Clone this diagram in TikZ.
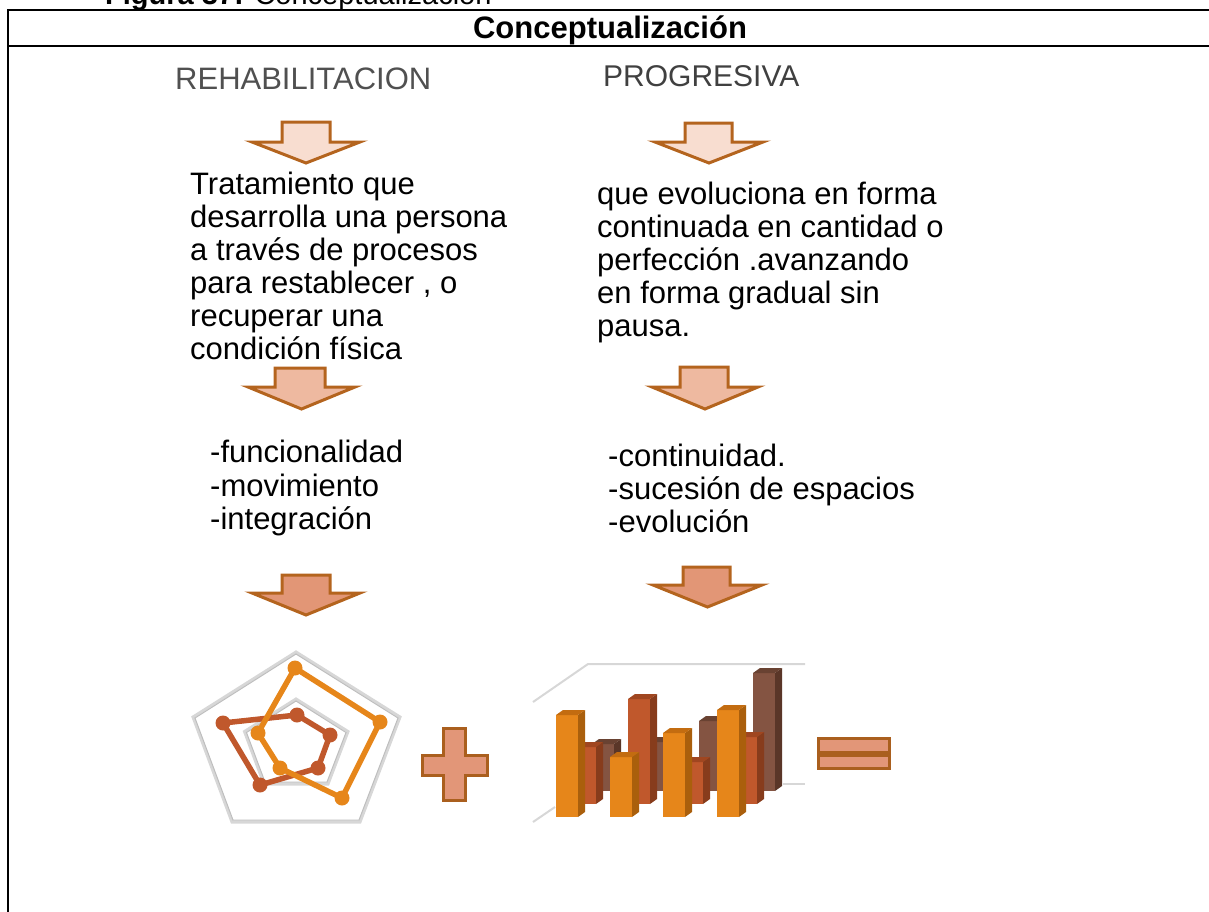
\documentclass[tikz,border=0pt]{standalone}
\usepackage{fontspec}
\setmainfont{Liberation Sans}
\definecolor{arrline}{RGB}{180,100,30}
\definecolor{fillA}{RGB}{248,221,208}
\definecolor{fillB}{RGB}{238,185,160}
\definecolor{fillC}{RGB}{226,150,118}
\definecolor{symfill}{RGB}{226,150,120}
\definecolor{symline}{RGB}{170,95,30}
\definecolor{gridgray}{RGB}{215,215,215}
\definecolor{gridshadow}{RGB}{190,190,190}
\definecolor{serO}{RGB}{230,134,26}
\definecolor{serOside}{RGB}{170,95,12}
\definecolor{serOtop}{RGB}{195,108,16}
\definecolor{serR}{RGB}{192,88,44}
\definecolor{serRside}{RGB}{135,60,28}
\definecolor{serRtop}{RGB}{160,70,32}
\definecolor{serB}{RGB}{132,84,66}
\definecolor{serBside}{RGB}{90,54,40}
\definecolor{serBtop}{RGB}{105,66,50}
\definecolor{headgray}{RGB}{80,80,80}
\newcommand{\blkarrow}[8]{\draw[arrowstyle, fill=#8] (#1,#3) -- (#2,#3) -- (#2,#4) -- (#6,#4) -- ({(#5+#6)/2},#7) -- (#5,#4) -- (#1,#4) -- cycle;}
\newcommand{\bardd}[6]{%
  \fill[#4] (#1,#3) rectangle ({#1+22},#2);
  \fill[#5] ({#1+22},#2) -- ({#1+29},{#2-5}) -- ({#1+29},{#3-5}) -- ({#1+22},#3) -- cycle;
  \fill[#6] (#1,#3) -- ({#1+7},{#3-5}) -- ({#1+29},{#3-5}) -- ({#1+22},#3) -- cycle;}
\begin{document}
\begin{tikzpicture}[x=1pt,y=-1pt,
  frameline/.style={line width=2pt, black},
  arrowstyle/.style={draw=arrline, line width=3pt, line join=miter},
  body/.style={anchor=base west, inner sep=0pt, font=\fontsize{31}{33}\selectfont},
  heading/.style={anchor=base west, inner sep=0pt, text=headgray},
  grid/.style={draw=gridgray, line width=3pt, line join=miter},
  gridsh/.style={draw=gridshadow, line width=1pt, line join=miter},
  series/.style={line width=5.5pt, line join=round},
  symbol/.style={draw=symline, fill=symfill, line width=3pt}]
\useasboundingbox (0,0) rectangle (1209,911);
\clip (0,0) rectangle (1209,911);
% caption (cut off at top)
\node[anchor=base west, inner sep=0pt, font=\fontsize{29}{30}\selectfont] (cap) at (105,4) {\textbf{Figura 37:} Conceptualización};
% frame
\draw[frameline] (1215,10) -- (8,10) -- (8,925);
\draw[frameline] (8,46) -- (1215,46);
\node[anchor=base, inner sep=0pt, font=\bfseries\fontsize{31}{31}\selectfont] (head) at (610,38) {Conceptualización};
% headings
\node[heading, font=\fontsize{31}{31}\selectfont] (rehab) at (175,89) {REHABILITACION};
\node[heading, font=\fontsize{30}{30}\selectfont, text=black!75] (prog) at (603,86) {PROGRESIVA};
% arrows
\blkarrow{282}{330}{122}{142}{252}{360}{163}{fillA}
\blkarrow{275}{325}{368}{387}{248}{355}{409}{fillB}
\blkarrow{282}{330}{575}{593}{252}{360}{615}{fillC}
\blkarrow{685}{732}{123}{142}{655}{763}{163}{fillA}
\blkarrow{680}{728}{367}{387}{652}{758}{409}{fillB}
\blkarrow{683}{730}{567}{585}{653}{762}{607}{fillC}
% left text
\node[body] (l1) at (190,194) {Tratamiento que};
\node[body] (l2) at (190,227) {desarrolla una persona};
\node[body] (l3) at (190,260) {a través de procesos};
\node[body] (l4) at (190,293) {para restablecer , o};
\node[body] (l5) at (190,326) {recuperar una};
\node[body] (l6) at (190,359) {condición física};
% right text
\node[body] (r1) at (597,204) {que evoluciona en forma};
\node[body] (r2) at (597,237) {continuada en cantidad o};
\node[body] (r3) at (597,270) {perfección .avanzando};
\node[body] (r4) at (597,303) {en forma gradual sin};
\node[body] (r5) at (597,336) {pausa.};
% lists
\node[body] (la) at (210,462) {-funcionalidad};
\node[body] (lb) at (210,496) {-movimiento};
\node[body] (lc) at (210,529) {-integración};
\node[body] (ra) at (608,466) {-continuidad.};
\node[body] (rb) at (608,499) {-sucesión de espacios};
\node[body] (rc) at (608,532) {-evolución};
% radar chart
\draw[grid] (296,652) -- (400,717) -- (360,822) -- (232,822) -- (193,717) -- cycle;
\draw[gridsh] (296,654) -- (398,718) -- (359,820) -- (233,820) -- (195,718) -- cycle;
\draw[grid] (296,699) -- (348,731.5) -- (328,784) -- (264,784) -- (244.5,731.5) -- cycle;
\draw[gridsh] (296,701) -- (346,732.5) -- (327,782) -- (265,782) -- (246.5,732.5) -- cycle;
\draw[series, serR] (223,723) -- (297,715) -- (330,735) -- (318,768) -- (260,785) -- cycle;
\foreach \p in {(223,723),(297,715),(330,735),(318,768),(260,785)} \fill[serR] \p circle (7.5);
\draw[series, serO] (295,668) -- (380,722) -- (342,798) -- (280,768) -- (258,733) -- cycle;
\foreach \p in {(295,668),(380,722),(342,798),(280,768),(258,733)} \fill[serO] \p circle (7.5);
% plus
\draw[symbol] (443,728) -- (465,728) -- (465,755) -- (487,755) -- (487,775) -- (465,775) -- (465,800) -- (443,800) -- (443,775) -- (422,775) -- (422,755) -- (443,755) -- cycle;
% bar chart walls
\draw[gridgray, line width=2pt] (533,702) -- (588,664) -- (805,664);
\draw[gridgray, line width=2pt] (783,784) -- (805,784);
\draw[gridgray, line width=2pt] (533,822) -- (555,807);
% bars: back row
\bardd{592}{791}{744}{serB}{serBside}{serBtop}
\bardd{646}{791}{742}{serB}{serBside}{serBtop}
\bardd{699}{791}{721}{serB}{serBside}{serBtop}
\bardd{753}{791}{673}{serB}{serBside}{serBtop}
% middle row
\bardd{574}{804}{747}{serR}{serRside}{serRtop}
\bardd{628}{804}{699}{serR}{serRside}{serRtop}
\bardd{681}{804}{762}{serR}{serRside}{serRtop}
\bardd{735}{804}{737}{serR}{serRside}{serRtop}
% front row
\bardd{556}{817}{715}{serO}{serOside}{serOtop}
\bardd{610}{817}{757}{serO}{serOside}{serOtop}
\bardd{663}{817}{733}{serO}{serOside}{serOtop}
\bardd{717}{817}{710}{serO}{serOside}{serOtop}
% equals
\draw[symbol] (818,738) rectangle (889,752);
\draw[symbol] (818,755) rectangle (889,768);
\end{tikzpicture}
\end{document}
